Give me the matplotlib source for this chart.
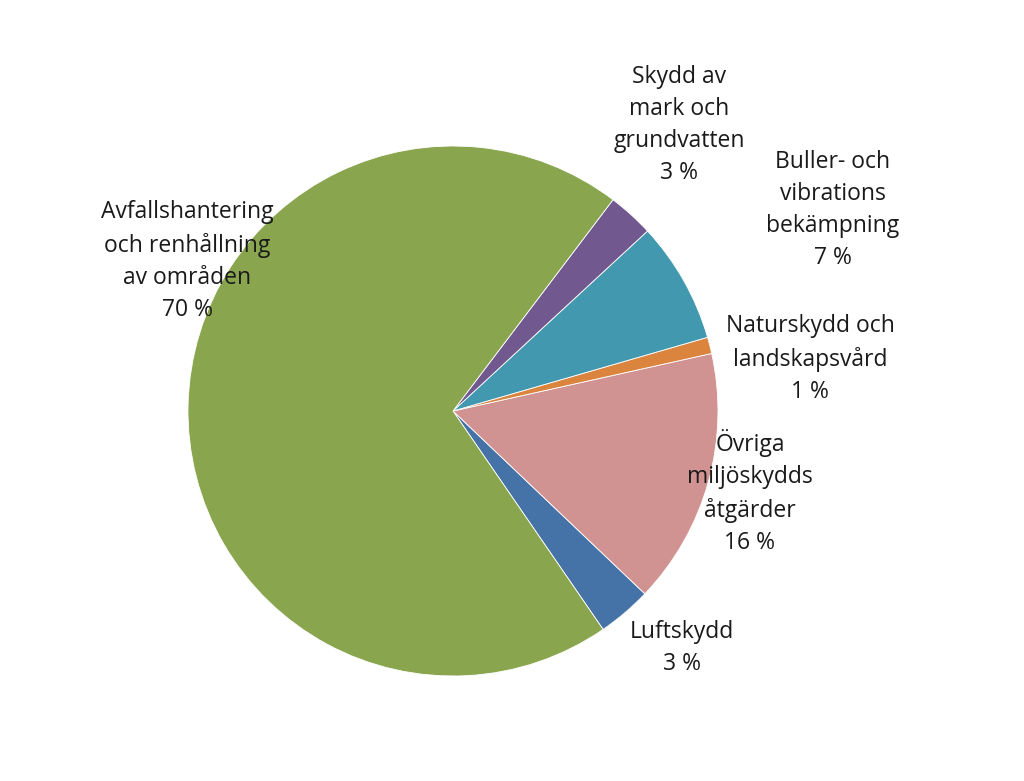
import matplotlib

matplotlib.use("Agg")
import matplotlib.pyplot as plt

# Shares (%) in counter-clockwise order, starting at the Luftskydd slice
categories = [
    "Luftskydd",
    "Övriga\nmiljöskydds\nåtgärder",
    "Naturskydd och\nlandskapsvård",
    "Buller- och\nvibrations\nbekämpning",
    "Skydd av\nmark och\ngrundvatten",
    "Avfallshantering\noch renhållning\nav områden",
]
shares = [3.3, 15.6, 1.0, 7.4, 2.8, 69.9]
pct_labels = ["3 %", "16 %", "1 %", "7 %", "3 %", "70 %"]
colors = ["#4572A7", "#D19392", "#DB843D", "#4198AF", "#71588F", "#89A54E"]

W, H = 1024, 781
fig = plt.figure(figsize=(W / 100, H / 100), dpi=100)
ax = fig.add_axes([0, 0, 1, 1])

cx, cy, r = 453, H - 411, 265
ax.pie(
    shares,
    colors=colors,
    startangle=-55.5,
    counterclock=True,
    center=(cx, cy),
    radius=r,
    frame=True,
    wedgeprops=dict(edgecolor="white", linewidth=0.6),
)
ax.set_xlim(0, W)
ax.set_ylim(0, H)
ax.set_aspect("equal")
ax.axis("off")

# label centres in pixel coordinates (x, y from top)
label_pos = [
    (682, 648),
    (750, 492),
    (810, 359),
    (833, 210),
    (679, 125),
    (187, 261),
]
for name, pct, (lx, ly) in zip(categories, pct_labels, label_pos):
    ax.text(
        lx,
        H - ly,
        f"{name}\n{pct}",
        ha="center",
        va="center",
        fontsize=16.5,
        family=["Open Sans", "DejaVu Sans"],
        linespacing=1.45,
        color="#1a1a1a",
    )

fig.savefig("out.png", dpi=100)
